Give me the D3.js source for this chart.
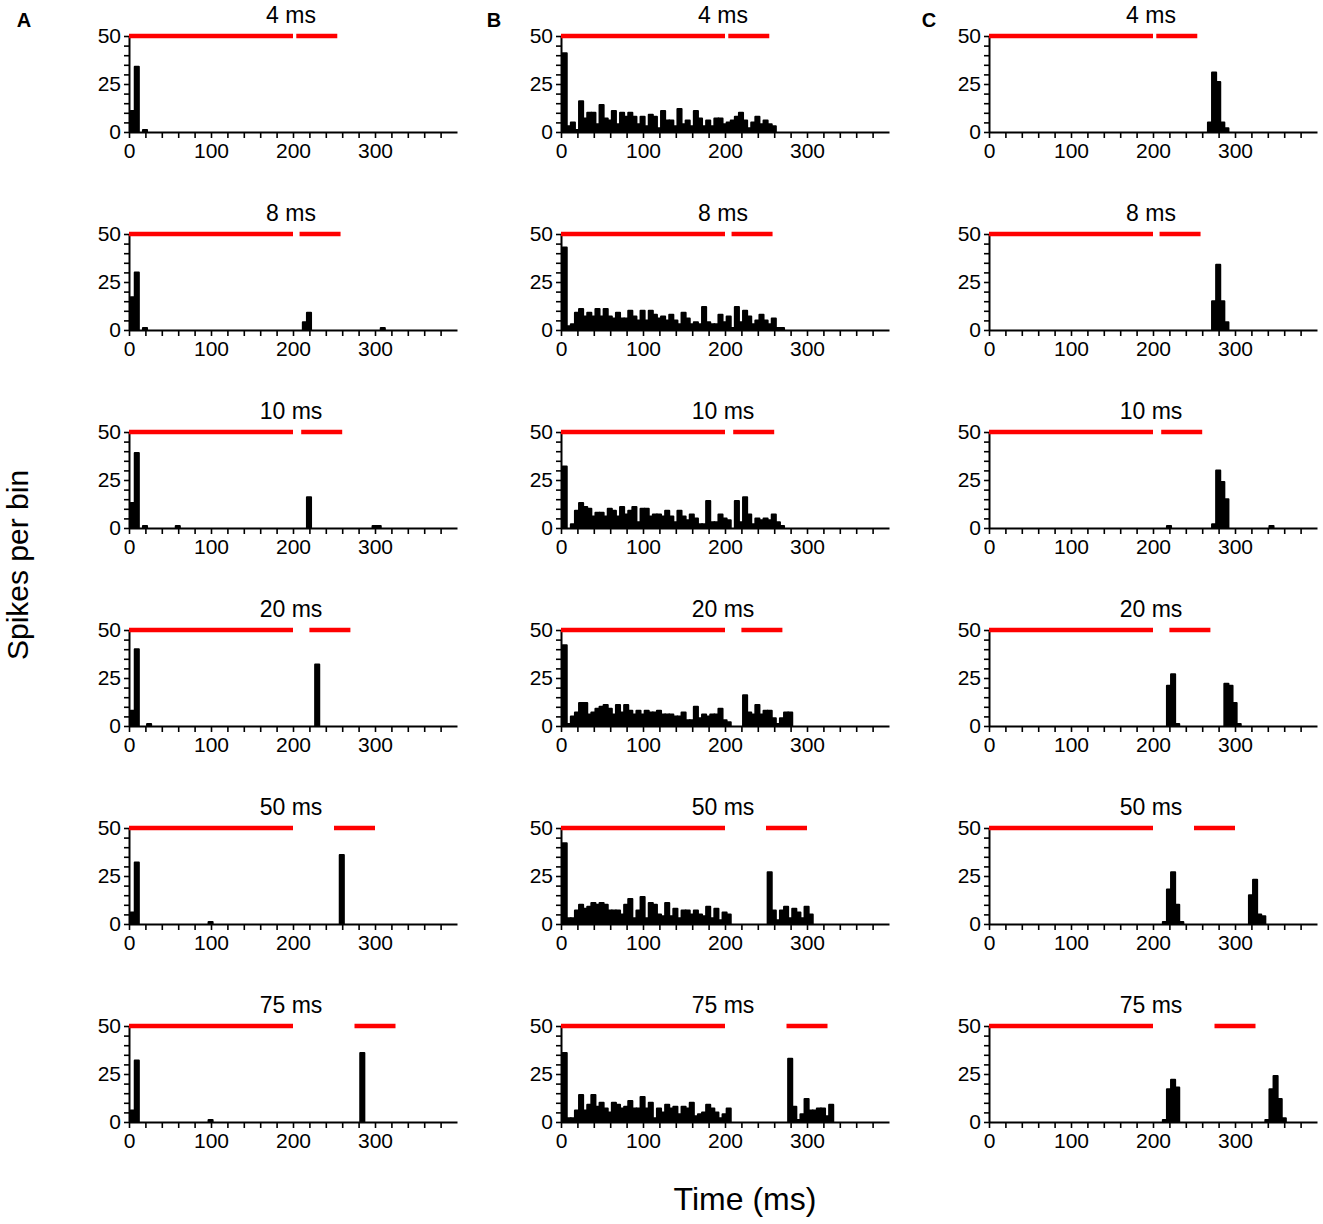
<!DOCTYPE html>
<html>
<head>
<meta charset="utf-8">
<script src="https://cdn.jsdelivr.net/npm/d3@7"></script>
<style>
  body { margin: 0; background: #fff; }
  text { font-family: "Liberation Sans", Arial, sans-serif; }
</style>
</head>
<body>
<script>
// gap between the two tones, one per row
var gaps = [4, 8, 10, 20, 50, 75];
var panelLetters = ["A", "B", "C"];
var binWidth = 5, binOffset = 2;
var toneOne = [0, 200], toneTwoLength = 50;
var xLabels = [0, 100, 200, 300];
var yLabels = [0, 25, 50];

// each panel: list of [first bin, counts...] runs of 5 ms bins
var histA = [
  [[0, [11, 34, 0, 1]]],
  [[0, [17, 30, 0, 1]], [42, [4, 9]], [61, [1]]],
  [[0, [13, 39, 0, 1]], [11, [1]], [43, [16]], [59, [1, 1]]],
  [[0, [8, 40, 0, 0, 1]], [45, [32]]],
  [[0, [6, 32]], [19, [1]], [51, [36]]],
  [[0, [6, 32]], [19, [1]], [56, [36]]]
];

var histB = [
  [[0, [41,3,5,1,16,7,10,10,4,14,7,6,11,4,10,8,10,8,4,8,3,9,8,2,11,6,6,3,12,4,6,3,11,7,3,6,3,7,7,4,5,6,8,10,6,2,5,8,4,6,4,3]]],
  [[0, [43,2,3,9,11,7,9,7,11,7,11,7,6,9,6,6,10,7,5,10,5,10,8,6,7,5,8,5,3,9,6,3,4,3,12,4,3,3,8,4,7,1,12,4,10,7,3,5,8,5,3,6,1,1]]],
  [[0, [32,0,2,9,13,11,10,6,8,8,6,10,9,6,11,7,9,11,3,10,10,6,7,7,6,9,6,3,9,6,4,7,5,2,2,14,3,3,7,5,4,0,14,3,16,7,2,5,4,5,4,7,3,1]]],
  [[0, [42,1,5,7,12,12,6,7,9,10,11,9,6,11,7,11,8,6,8,6,8,7,7,8,6,6,6,5,5,7,3,3,10,4,6,5,6,6,9,3,2]],
   [44, [16,7,6,11,6,8,8,4,1,4,7,7]]],
  [[0, [42,3,3,7,10,8,9,11,10,11,10,7,7,7,5,10,13,3,7,14,3,11,10,5,4,11,4,8,3,7,7,5,7,5,4,9,3,8,2,6,5]],
   [50, [27,7,2,7,9,3,8,6,3,9,5]]],
  [[0, [36,2,2,6,14,6,9,14,8,10,7,5,10,9,7,8,11,7,7,13,7,10,2,7,5,9,7,8,4,8,7,10,3,4,5,9,7,5,2,4,7]],
   [55, [33,8,1,4,12,6,6,7,7,3,9]]]
];

var histC = [
  [[53, [5, 31, 26, 5, 2]]],
  [[54, [15, 34, 15, 4]]],
  [[43, [1]], [54, [2, 30, 24, 15]], [68, [1]]],
  [[43, [21, 27, 1]], [57, [22, 21, 12, 1]]],
  [[42, [1, 18, 27, 10, 1]], [63, [15, 23, 5, 4]]],
  [[42, [1, 17, 22, 18]], [67, [1, 17, 24, 12, 2]]]
];

var columns = [histA, histB, histC];
var colLeft = [129, 561, 989];
var letterX = [24, 494, 929];
var rowTop = 36, rowStep = 198, plotH = 96, plotW = 328;

var svg = d3.select("body").append("svg")
    .attr("width", 1323).attr("height", 1224);

// panel letters
svg.selectAll("text.letter")
    .data(panelLetters)
    .enter()
    .append("text")
    .attr("class", "letter")
    .attr("x", function(d, i) { return letterX[i]; })
    .attr("y", 27)
    .attr("text-anchor", "middle")
    .style("font-weight", "bold").style("font-size", "20px")
    .text(function(d) { return d; });

// axis labels
svg.append("text")
    .attr("transform", "translate(28,565) rotate(-90)")
    .attr("text-anchor", "middle")
    .style("font-size", "30px")
    .text("Spikes per bin");
svg.append("text")
    .attr("x", 745).attr("y", 1210)
    .attr("text-anchor", "middle")
    .style("font-size", "32px")
    .text("Time (ms)");

function flatten(runs) {
    var out = [];
    runs.forEach(function(r) {
        r[1].forEach(function(c, k) {
            if (c > 0) out.push({ bin: r[0] + k, count: c });
        });
    });
    return out;
}

columns.forEach(function(hist, ci) {
    hist.forEach(function(runs, ri) {
        var left = colLeft[ci];
        var top = rowTop + ri * rowStep;
        var x = d3.scaleLinear().domain([0, 400]).range([0, plotW]);
        var y = d3.scaleLinear().domain([0, 50]).range([plotH, 0]);
        var g = svg.append("g").attr("transform", "translate(" + left + "," + top + ")");

        // bars
        g.selectAll("rect")
            .data(flatten(runs))
            .enter()
            .append("rect")
            .attr("x", function(d) { return x(binOffset + d.bin * binWidth); })
            .attr("width", x(binWidth) - x(0))
            .attr("y", function(d) { return y(d.count); })
            .attr("height", function(d) { return y(0) - y(d.count); })
            .attr("fill", "black").attr("stroke", "black")
            .attr("stroke-width", 2).attr("stroke-linejoin", "round");

        // axes
        var xAxis = d3.axisBottom(x)
            .tickValues(d3.range(0, 381, 20))
            .tickFormat(function(d) { return xLabels.indexOf(d) >= 0 ? d : ""; })
            .tickSize(6).tickSizeOuter(0).tickPadding(5);
        var yAxis = d3.axisLeft(y)
            .tickValues(d3.range(0, 51, 5))
            .tickFormat(function(d) { return yLabels.indexOf(d) >= 0 ? d : ""; })
            .tickSize(5).tickSizeOuter(0).tickPadding(3);
        var gx = g.append("g").attr("transform", "translate(0," + plotH + ")").call(xAxis);
        var gy = g.append("g").call(yAxis);
        [gx, gy].forEach(function(a) {
            a.select(".domain").attr("stroke-width", 2);
            a.selectAll(".tick line").attr("stroke-width", 1.6);
            a.selectAll(".tick text").style("font-size", "21px")
                .style("font-family", "'Liberation Sans', Arial, sans-serif").attr("fill", "black");
        });

        // tone markers
        var tones = [toneOne, [toneOne[1] + gaps[ri], toneOne[1] + gaps[ri] + toneTwoLength]];
        g.selectAll("line.tone")
            .data(tones)
            .enter()
            .append("line")
            .attr("class", "tone")
            .attr("x1", function(d) { return x(d[0]); })
            .attr("x2", function(d) { return x(d[1]); })
            .attr("y1", y(50)).attr("y2", y(50))
            .attr("stroke", "#ff0000").attr("stroke-width", 4.5);

        // title
        g.append("text")
            .attr("x", x(200) - 2).attr("y", -13.5)
            .attr("text-anchor", "middle")
            .style("font-size", "23px")
            .text(gaps[ri] + " ms");
    });
});
</script>
</body>
</html>
